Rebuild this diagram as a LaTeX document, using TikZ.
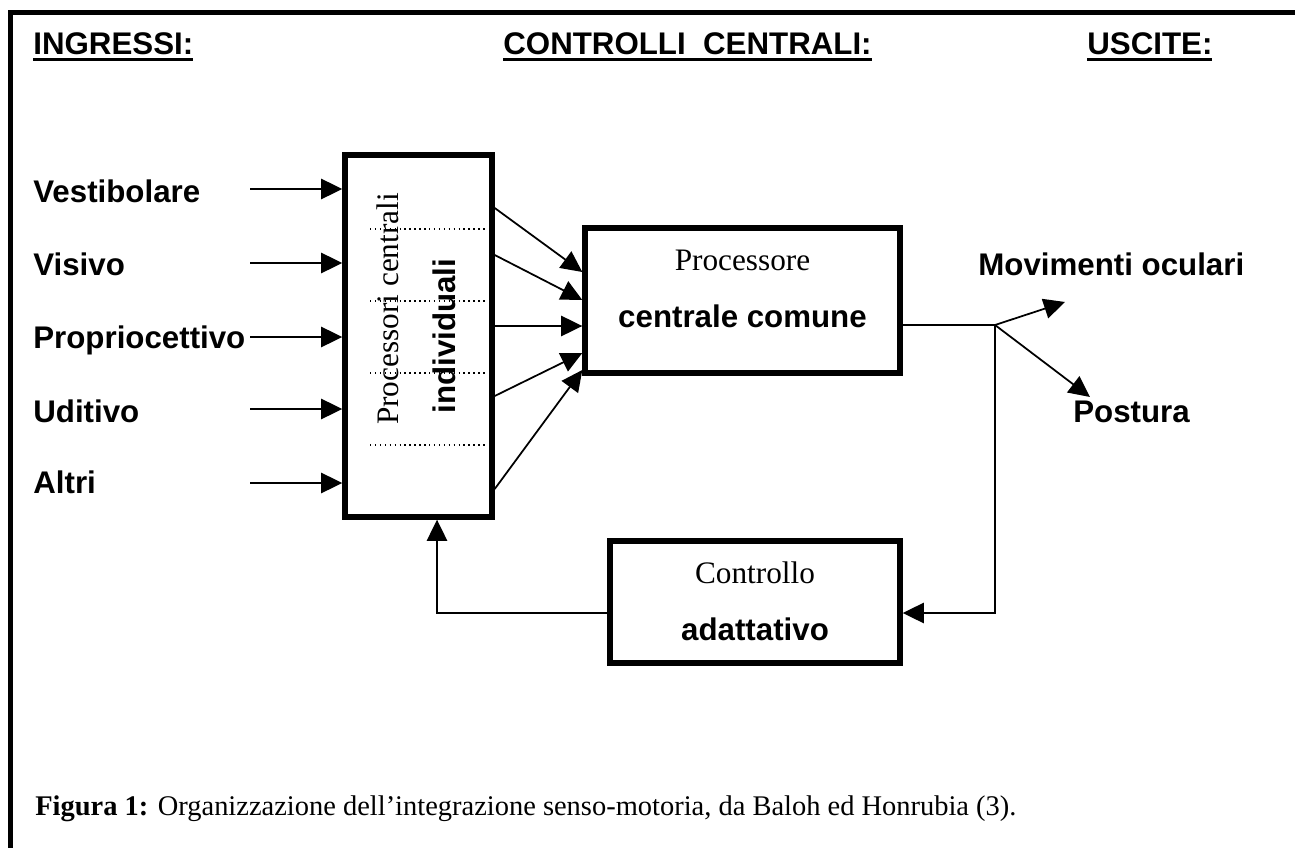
\documentclass[tikz,border=0pt]{standalone}
\usepackage{fontspec}
\setmainfont{Liberation Serif}
\setsansfont{Liberation Sans}
\usetikzlibrary{calc,arrows.meta}
\newcommand\labfont{\sffamily\bfseries\fontsize{17.8}{21}\selectfont}
\newcommand\serfont{\rmfamily\fontsize{17.8}{21}\selectfont}
\newcommand\headul[1]{\setbox0\hbox{#1}\rlap{\rule[-3.6pt]{\wd0}{2pt}}\box0}
\begin{document}
\begin{tikzpicture}[x=0.02cm,y=-0.02cm,
  lab/.style={font=\labfont, inner sep=0pt, anchor=base west},
  ser/.style={font=\serfont, inner sep=0pt, anchor=base},
  bold/.style={font=\labfont, inner sep=0pt, anchor=base},
  blok/.style={draw, line width=3.1pt, inner sep=0pt},
  arr/.style={line width=1pt, -{Triangle[length=12pt,width=11.5pt]}},
  thin/.style={line width=1pt}]
  \useasboundingbox (0,0) rectangle (1295,848);
  \draw[line width=3.1pt] (1295,12.5) -- (10.5,12.5) -- (10.5,848);
  % titoli
  \node[lab] (hin) at (33,55) {\headul{INGRESSI:}};
  \node[lab] (hcc) at (503,55) {\headul{CONTROLLI\ \ CENTRALI:}};
  \node[lab] (hout) at (1087,55) {\headul{USCITE:}};
  % blocchi
  \node[blok, minimum width=2.94cm, minimum height=7.24cm] (indiv) at (418.5,336) {};
  \node[blok, minimum width=6.3cm, minimum height=2.9cm] (comune) at (742.5,300.5) {};
  \node[blok, minimum width=5.8cm, minimum height=2.44cm] (adatt) at (755,602) {};
  \node[ser, rotate=90] (pci) at ($(indiv.center)+(-20.5,-27)$) {Processori centrali};
  \node[bold, rotate=90] (ind) at ($(indiv.center)+(36.5,0)$) {individuali};
  \foreach \y in {229,301,373,445}
    \draw[dotted, line width=0.8pt] (370,\y) -- (487,\y);
  \node[ser] (proc) at ($(comune.center)+(0,-30.5)$) {Processore};
  \node[bold] (ccom) at ($(comune.center)+(0,26.5)$) {centrale comune};
  \node[ser] (contr) at ($(adatt.center)+(0,-19)$) {Controllo};
  \node[bold] (adat) at ($(adatt.center)+(0,38)$) {adattativo};
  % ingressi
  \foreach \i/\txt/\y/\b in {1/Vestibolare/189/202, 2/Visivo/263/275, 3/Propriocettivo/337/348, 4/Uditivo/409/422, 5/Altri/483/493} {
    \node[lab] (lab\i) at (33,\b) {\txt};
    \coordinate (in\i) at (250,\y);
    \draw[arr] (in\i) -- (in\i -| indiv.west);
  }
  \foreach \a/\b in {-128/-28.5, -81/-0.5, -10/25.5, 60/52.5, 153/69.5}
    \draw[arr] ($(indiv.east)+(0,\a)$) -- ($(comune.west)+(0,\b)$);
  % uscite
  \coordinate (split) at (995,325);
  \coordinate (occhi) at (1065,302);
  \coordinate (post) at (1090,397);
  \draw[thin] (comune.east |- split) -- (split);
  \draw[arr] (split) -- (occhi);
  \draw[arr] (split) -- (post);
  \node[lab] (mov) at (978,275) {Movimenti oculari};
  \node[lab] (pos) at (1073,422) {Postura};
  \draw[arr] (split) |- ($(adatt.east)+(0,11)$);
  \draw[arr] ($(adatt.west)+(0,11)$) -| ($(indiv.south)+(18.5,0)$);
  % didascalia
  \node[anchor=base west, inner sep=0pt, font=\rmfamily\fontsize{16.2}{19}\selectfont] (cap) at (35,815)
    {\textbf{Figura 1:} Organizzazione dell’integrazione senso-motoria, da Baloh ed Honrubia (3).};
\end{tikzpicture}
\end{document}
